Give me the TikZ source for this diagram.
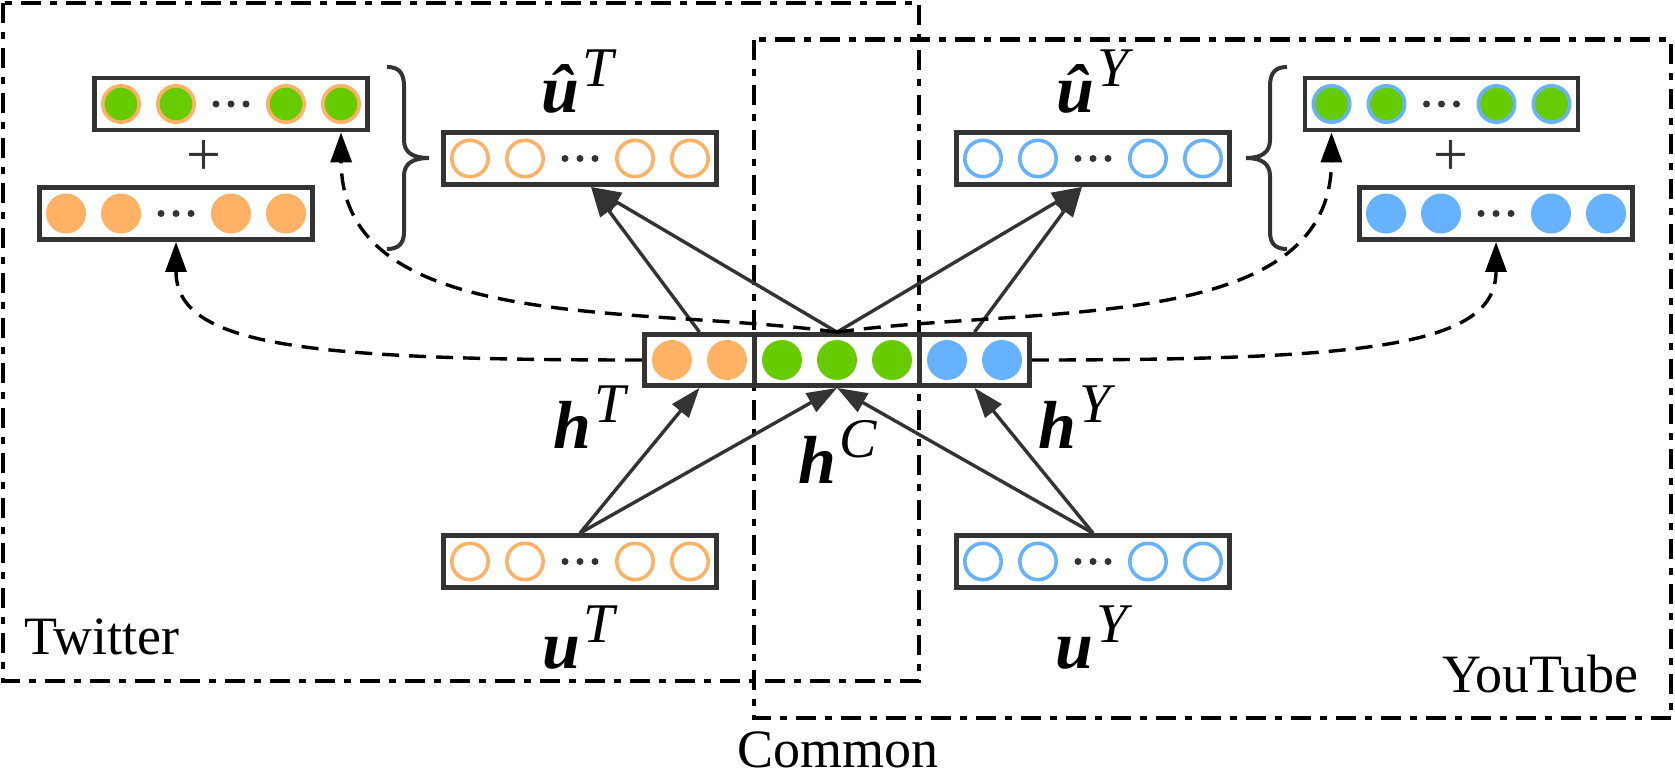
\documentclass[tikz,border=0pt]{standalone}
\usepackage{fontspec}
\setmainfont{Liberation Serif}[BoldItalicFont={Liberation Serif Bold Italic}]
\usetikzlibrary{arrows.meta,calc}
\definecolor{boxgray}{HTML}{333333}
\definecolor{corange}{HTML}{FFB266}
\definecolor{cgreen}{HTML}{66CC00}
\definecolor{cblue}{HTML}{66B2FF}
\newcommand{\vlab}[2]{{\fontsize{68}{68}\selectfont\bfseries\itshape #1}\kern3pt\raisebox{26pt}{\fontsize{56}{56}\selectfont\itshape #2}}
\newcommand{\dotsrow}[1]{\foreach \dx in {-15,0,15}{\fill[boxgray] ($(#1.center)+(\dx,0)$) circle[radius=3.5pt];}}
\newcommand{\fullrow}[2]{\foreach \dx in {-110,-55,55,110}{\fill[#2] ($(#1.center)+(\dx,0)$) circle[radius=20pt];}\dotsrow{#1}}
\newcommand{\ringrow}[3]{\foreach \dx in {-110,-55,55,110}{\filldraw[fill=#2,draw=#3,line width=3.6pt] ($(#1.center)+(\dx,0)$) circle[radius=18.2pt];}\dotsrow{#1}}
\begin{document}
\begin{tikzpicture}[x=1pt,y=-1pt,
  region/.style={draw=black,line width=4.6pt,dash pattern=on 20pt off 9pt on 7pt off 9pt},
  vec/.style={draw=boxgray,line width=4.8pt,fill=white,minimum width=273pt,minimum height=52pt,inner sep=0pt},
  seg/.style={draw=boxgray,line width=4.8pt,fill=white,minimum height=51pt,inner sep=0pt},
  arr/.style={draw=boxgray,line width=3.4pt,-{Triangle[length=30pt,width=21pt]}},
  darr/.style={draw=black,line width=3.4pt,dash pattern=on 17pt off 10pt,-{Triangle[length=30pt,width=21pt]}},
  brc/.style={draw=boxgray,line width=4pt},
  lab/.style={anchor=base west,inner sep=0pt},
  txt/.style={inner sep=0pt,font=\fontsize{54}{54}\selectfont}]
\useasboundingbox (0,0) rectangle (1675,774);
% regions
\draw[region] (3,3) rectangle (919,681);
\draw[region] (754,39.5) rectangle (1671,718);
% vector boxes
\node[vec] (TG) at (231,104) {};
\node[vec] (TO) at (176,213.5) {};
\node[vec] (hatT) at (580,158.5) {};
\node[vec] (hatY) at (1093,158.5) {};
\node[vec] (YG) at (1441.5,104) {};
\node[vec] (YB) at (1496,213.5) {};
\node[vec] (uT) at (580,561.5) {};
\node[vec] (uY) at (1093,561.5) {};
\node[seg,minimum width=110pt] (hTn) at (699.5,360) {};
\node[seg,minimum width=165pt] (hCn) at (837,360) {};
\node[seg,minimum width=110pt] (hYn) at (974.5,360) {};
% circles
\ringrow{TG}{cgreen}{corange}
\fullrow{TO}{corange}
\ringrow{hatT}{white}{corange}
\ringrow{uT}{white}{corange}
\ringrow{YG}{cgreen}{cblue}
\fullrow{YB}{cblue}
\ringrow{hatY}{white}{cblue}
\ringrow{uY}{white}{cblue}
\foreach \dx in {-27.5,27.5}{\fill[corange] ($(hTn.center)+(\dx,0)$) circle[radius=20pt];}
\foreach \dx in {-55,0,55}{\fill[cgreen] ($(hCn.center)+(\dx,0)$) circle[radius=20pt];}
\foreach \dx in {-27.5,27.5}{\fill[cblue] ($(hYn.center)+(\dx,0)$) circle[radius=20pt];}
% plus signs and braces
\node[txt,text=boxgray,font=\fontsize{62}{62}\selectfont] (p1) at (204,158) {+};
\node[txt,text=boxgray,font=\fontsize{62}{62}\selectfont] (p2) at (1451,158) {+};
\draw[brc] (387,67) .. controls (398,67) and (404,72) .. (404,86) -- (404,140) .. controls (404,152) and (412,158) .. (429,158) .. controls (412,158) and (404,164) .. (404,176) -- (404,232) .. controls (404,244) and (398,249) .. (387,249);
\draw[brc] (1287,67) .. controls (1276,67) and (1270,72) .. (1270,86) -- (1270,140) .. controls (1270,152) and (1262,158) .. (1246,158) .. controls (1262,158) and (1270,164) .. (1270,176) -- (1270,232) .. controls (1270,244) and (1276,249) .. (1287,249);
% labels
\node[lab] (lhatT) at (541,112) {\vlab{\^u}{T}};
\node[lab] (lhatY) at (1056,112) {\vlab{\^u}{Y}};
\node[lab] (lhT) at (553,448) {\vlab{h}{T}};
\node[lab] (lhC) at (798,483) {\vlab{h}{C}};
\node[lab] (lhY) at (1038,448) {\vlab{h}{Y}};
\node[lab] (luT) at (542,668) {\vlab{u}{T}};
\node[lab] (luY) at (1055,668) {\vlab{u}{Y}};
\node[txt,anchor=base west] (tw) at (24,654) {Twitter};
\node[txt,anchor=base west] (yt) at (1442,692) {YouTube};
\node[txt,anchor=base] (cm) at (838,767) {Common};
% solid connectors
\draw[arr] (uT.north) -- (hTn.south);
\draw[arr] (uT.north) -- (hCn.south);
\draw[arr] (uY.north) -- (hYn.south);
\draw[arr] (uY.north) -- (hCn.south);
\draw[arr] (hTn.north) -- ($(hatT.south)+(11,0)$);
\draw[arr] (hCn.north) -- ($(hatT.south)+(11,0)$);
\draw[arr] (hYn.north) -- ($(hatY.south)+(-11,0)$);
\draw[arr] (hCn.north) -- ($(hatY.south)+(-11,0)$);
% dashed connectors
\draw[darr] (hTn.west) .. controls (300,360) and (176,345) .. (TO.south);
\draw[darr] (hCn.north) .. controls (640,305) and (342,335) .. ($(TG.south)+(110,0)$);
\draw[darr] (hCn.north) .. controls (1034,305) and (1331,335) .. ($(YG.south)+(-110,0)$);
\draw[darr] (hYn.east) .. controls (1374,360) and (1496,345) .. (YB.south);
\end{tikzpicture}
\end{document}
